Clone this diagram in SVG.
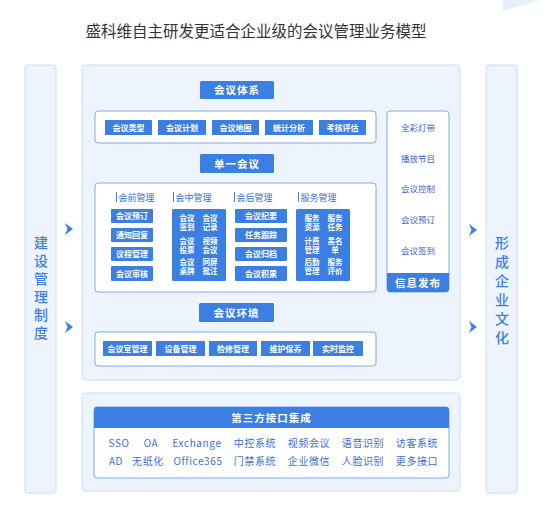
<svg xmlns="http://www.w3.org/2000/svg" width="552" height="522" viewBox="0 0 552 522">
<style>
.f{font-family:"Noto Sans CJK SC","Liberation Sans",sans-serif}
.panel{fill:#edf4fe;stroke:#c9dcf8;stroke-width:1}
.box{fill:#ffffff;stroke:#7fa9ee;stroke-width:1}
.btn{fill:#3b7fe3}
.bt{font-family:"Noto Sans CJK SC",sans-serif;font-size:8px;font-weight:bold;fill:#ffffff;text-anchor:middle}
.bs{font-family:"Noto Sans CJK SC",sans-serif;font-size:7.5px;font-weight:bold;fill:#ffffff;text-anchor:middle}
.hd{font-family:"Noto Sans CJK SC",sans-serif;font-size:10.5px;font-weight:bold;fill:#ffffff;text-anchor:middle;letter-spacing:1px}
.sec{font-family:"Noto Sans CJK SC",sans-serif;font-size:9px;fill:#3a6fd8}
.it{font-family:"Noto Sans CJK SC",sans-serif;font-size:8.5px;fill:#3a63c8;text-anchor:middle}
.bot{font-family:"Noto Sans CJK SC","Liberation Sans",sans-serif;font-size:10px;fill:#3b6fd6;text-anchor:middle;letter-spacing:0.6px}
.vt{font-family:"Noto Sans CJK SC",sans-serif;font-size:14px;font-weight:500;fill:#3b7fe3;writing-mode:vertical-rl;text-orientation:upright}
.arr{fill:#3b7fe3}
</style>
<rect width="552" height="522" fill="#ffffff"/>
<polygon points="503,0 541,0 503,11" fill="#e6effc"/>
<text x="256" y="37" class="f" font-size="15.5" fill="#333333" text-anchor="middle">盛科维自主研发更适合企业级的会议管理业务模型</text>

<g id="left-col">
<rect x="25" y="65" width="31" height="428" rx="3" class="panel"/>
<text x="41" y="236" class="vt" letter-spacing="4">建设管理制度</text>
</g>
<g id="right-col">
<rect x="486" y="65" width="31" height="428" rx="3" class="panel"/>
<text x="502" y="236" class="vt" letter-spacing="5">形成企业文化</text>
</g>

<g id="connectors">
<polygon class="arr" points="65,223 73,229 65,235 67.5,229"/>
<polygon class="arr" points="65,321 73,327 65,333 67.5,327"/>
<polygon class="arr" points="469,224 477,230 469,236 471.5,230"/>
<polygon class="arr" points="469,321 477,327 469,333 471.5,327"/>
</g>

<g id="main-panel">
<rect x="82" y="65" width="378" height="315" rx="4" class="panel"/>
</g>

<g id="system">
<rect x="200" y="81" width="74" height="18" rx="1.5" class="btn"/>
<text x="237" y="94" class="hd">会议体系</text>
<rect x="95" y="111" width="281" height="32" rx="3" class="box"/>
<rect x="105" y="120" width="47" height="15" class="btn"/><text x="128.5" y="130.5" class="bt">会议类型</text>
<rect x="158" y="120" width="48" height="15" class="btn"/><text x="182" y="130.5" class="bt">会议计划</text>
<rect x="212" y="120" width="47" height="15" class="btn"/><text x="235.5" y="130.5" class="bt">会议地图</text>
<rect x="265" y="120" width="48" height="15" class="btn"/><text x="289" y="130.5" class="bt">统计分析</text>
<rect x="319" y="120" width="47" height="15" class="btn"/><text x="342.5" y="130.5" class="bt">考核评估</text>
</g>

<g id="single">
<rect x="200" y="154" width="74" height="19" rx="1.5" class="btn"/>
<text x="237" y="167.5" class="hd">单一会议</text>
<rect x="95" y="183" width="281" height="109" rx="3" class="box"/>
<rect x="116" y="192" width="1" height="10" fill="#3b7fe3"/><text x="118.5" y="200.5" class="sec">会前管理</text>
<rect x="173" y="192" width="1" height="10" fill="#3b7fe3"/><text x="175.5" y="200.5" class="sec">会中管理</text>
<rect x="234" y="192" width="1" height="10" fill="#3b7fe3"/><text x="236.5" y="200.5" class="sec">会后管理</text>
<rect x="298" y="192" width="1" height="10" fill="#3b7fe3"/><text x="300.5" y="200.5" class="sec">服务管理</text>

<rect x="111" y="209" width="42" height="14" rx="1" class="btn"/><text x="132" y="219" class="bt">会议预订</text>
<rect x="111" y="228" width="42" height="14" rx="1" class="btn"/><text x="132" y="238" class="bt">通知回复</text>
<rect x="111" y="247" width="42" height="14" rx="1" class="btn"/><text x="132" y="257" class="bt">议程管理</text>
<rect x="111" y="266" width="42" height="15" rx="1" class="btn"/><text x="132" y="276.5" class="bt">会议审核</text>

<rect x="172" y="209" width="54" height="72" rx="1.5" class="btn"/>
<text class="bs" x="187" y="220.5">会议</text><text class="bs" x="187" y="230">签到</text>
<text class="bs" x="210" y="220.5">会议</text><text class="bs" x="210" y="230">记录</text>
<text class="bs" x="187" y="243.5">会议</text><text class="bs" x="187" y="253">投票</text>
<text class="bs" x="210" y="243.5">视频</text><text class="bs" x="210" y="253">会议</text>
<text class="bs" x="187" y="264.5">会议</text><text class="bs" x="187" y="274">桌牌</text>
<text class="bs" x="210" y="264.5">同屏</text><text class="bs" x="210" y="274">批注</text>

<rect x="235" y="209" width="52" height="14" rx="1" class="btn"/><text x="261" y="219" class="bt">会议纪要</text>
<rect x="235" y="228" width="52" height="14" rx="1" class="btn"/><text x="261" y="238" class="bt">任务跟踪</text>
<rect x="235" y="247" width="52" height="14" rx="1" class="btn"/><text x="261" y="257" class="bt">会议归档</text>
<rect x="235" y="266" width="52" height="15" rx="1" class="btn"/><text x="261" y="276.5" class="bt">会议积累</text>

<rect x="296" y="209" width="54" height="72" rx="1.5" class="btn"/>
<text class="bs" x="312" y="220.5">服务</text><text class="bs" x="312" y="230">资源</text>
<text class="bs" x="335" y="220.5">服务</text><text class="bs" x="335" y="230">任务</text>
<text class="bs" x="312" y="243.5">计费</text><text class="bs" x="312" y="253">管理</text>
<text class="bs" x="335" y="243.5">黑名</text><text class="bs" x="335" y="253">单</text>
<text class="bs" x="312" y="264.5">后勤</text><text class="bs" x="312" y="274">管理</text>
<text class="bs" x="335" y="264.5">服务</text><text class="bs" x="335" y="274">评价</text>
</g>

<g id="info">
<rect x="387" y="111" width="62" height="181" rx="3" class="box"/>
<path d="M387,273 H449 V289 a3,3 0 0 1 -3,3 H390 a3,3 0 0 1 -3,-3 Z" class="btn"/>
<text x="418" y="131" class="it">全彩灯带</text>
<text x="418" y="162" class="it">播放节目</text>
<text x="418" y="192" class="it">会议控制</text>
<text x="418" y="223" class="it">会议预订</text>
<text x="418" y="254" class="it">会议签到</text>
<text x="418" y="286.5" class="hd" font-size="9.5">信息发布</text>
</g>

<g id="env">
<rect x="199" y="303" width="75" height="19" rx="1.5" class="btn"/>
<text x="236.5" y="316.5" class="hd">会议环境</text>
<rect x="95" y="332" width="281" height="34" rx="3" class="box"/>
<rect x="103" y="341" width="49" height="15" class="btn"/><text x="127.5" y="351.5" class="bt">会议室管理</text>
<rect x="156" y="341" width="49" height="15" class="btn"/><text x="180.5" y="351.5" class="bt">设备管理</text>
<rect x="209" y="341" width="48" height="15" class="btn"/><text x="233" y="351.5" class="bt">检修管理</text>
<rect x="261" y="341" width="49" height="15" class="btn"/><text x="285.5" y="351.5" class="bt">维护保养</text>
<rect x="313" y="341" width="50" height="15" class="btn"/><text x="338" y="351.5" class="bt">实时监控</text>
</g>

<g id="third-party">
<rect x="82" y="393" width="378" height="98" rx="4" class="panel"/>
<rect x="94" y="407" width="355" height="71" rx="3" class="box"/>
<path d="M94,428 V410 a3,3 0 0 1 3,-3 H446 a3,3 0 0 1 3,3 V428 Z" class="btn"/>
<text x="271.5" y="421.5" class="hd">第三方接口集成</text>
<text y="447" class="bot"><tspan x="119">SSO</tspan><tspan x="151">OA</tspan><tspan x="197">Exchange</tspan><tspan x="255">中控系统</tspan><tspan x="309">视频会议</tspan><tspan x="363">语音识别</tspan><tspan x="417">访客系统</tspan></text>
<text y="465" class="bot"><tspan x="116">AD</tspan><tspan x="148">无纸化</tspan><tspan x="198">Office365</tspan><tspan x="255">门禁系统</tspan><tspan x="309">企业微信</tspan><tspan x="363">人脸识别</tspan><tspan x="417">更多接口</tspan></text>
</g>
</svg>
